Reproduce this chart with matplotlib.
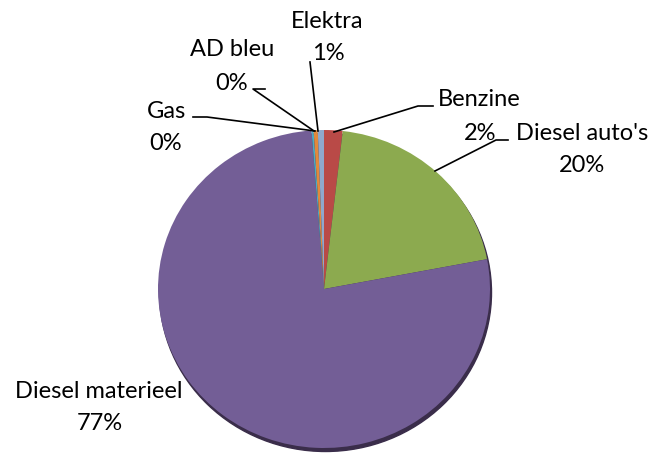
import matplotlib.pyplot as plt
from matplotlib.patches import Ellipse

# data (clockwise from 12 o'clock)
categories = ["Benzine", "Diesel auto's", "Diesel materieel", "Gas", "AD bleu", "Elektra"]
values = [1.8, 20.2, 76.8, 0.2, 0.4, 0.6]
colors = ["#B94A47", "#8CAA4F", "#735E96", "#4BACC6", "#E2893C", "#8FA9CD"]

# pie geometry in pixels (slightly flattened, like the 3D look of the original)
W, H = 652, 457
cx, cy, rx, ry = 324, 289, 166, 159


def to_data(px, py):
    return (px - cx) / rx, (cy - py) / ry


# label placement in pixels: name centre, percent centre, leader polyline
label_pos = {
    "Elektra": ((327, 22), (328, 53), [(310, 62), (318, 131)]),
    "AD bleu": ((232, 50), (232, 83), [(265, 89), (253, 89), (314, 131)]),
    "Gas": ((166, 112), (166, 143), [(193, 117), (207, 117), (315, 131)]),
    "Benzine": ((479, 100), (480, 133), [(433, 106), (418, 106), (334, 132)]),
    "Diesel auto's": ((582, 133), (582, 165), [(508, 140), (496, 140), (435, 171)]),
    "Diesel materieel": ((99, 391), (100, 423), None),
}

plt.rcParams['font.family'] = ['Lato', 'DejaVu Sans']

fig = plt.figure(figsize=(W / 100, H / 100), dpi=100)
ax = fig.add_axes([0, 0, 1, 1])

# shadow under the pie
ax.add_patch(Ellipse((1.5 / rx, -3.5 / ry), 2, 2, color="#3a2d4a", zorder=0))
ax.pie(values, colors=colors, startangle=90, counterclock=False,
       wedgeprops=dict(linewidth=0, zorder=1))

total = sum(values)
for name, v in zip(categories, values):
    (nx, ny), (qx, qy), leader = label_pos[name]
    ax.text(*to_data(nx, ny), name, ha="center", va="center", fontsize=17, color="black")
    ax.text(*to_data(qx, qy), f"{round(v / total * 100)}%", ha="center", va="center",
            fontsize=17, color="black")
    if leader:
        pts = [to_data(*p) for p in leader]
        ax.plot([p[0] for p in pts], [p[1] for p in pts], color="black", lw=1.2, zorder=3)

ax.set_aspect("auto")
ax.set_xlim(-cx / rx, (W - cx) / rx)
ax.set_ylim(-(H - cy) / ry, cy / ry)
ax.axis("off")

fig.savefig("out.png", dpi=100)
